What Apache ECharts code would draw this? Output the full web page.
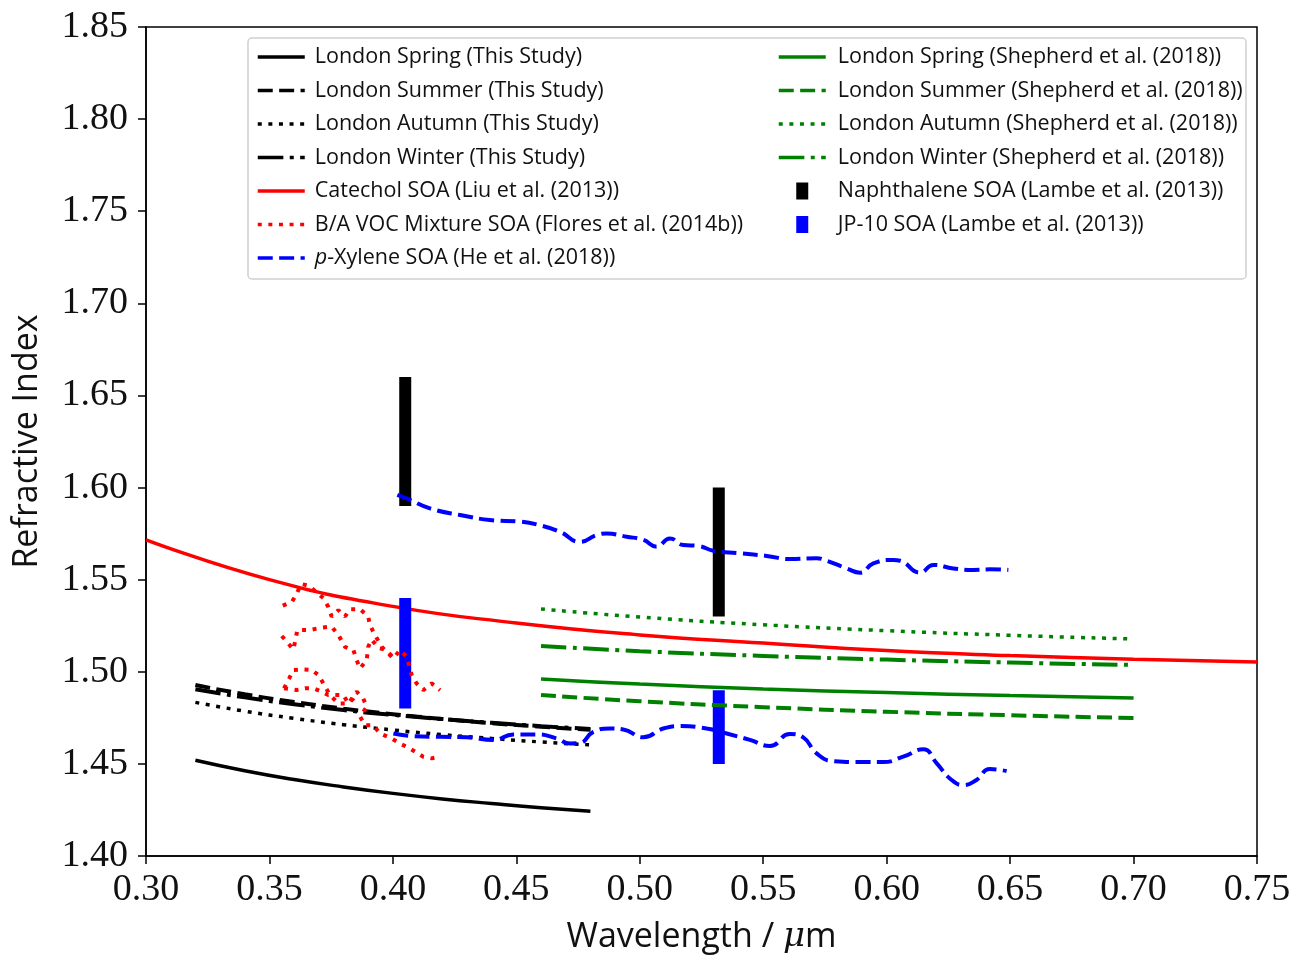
<!DOCTYPE html>
<html>
<head>
<meta charset="utf-8">
<script src="https://cdn.jsdelivr.net/npm/echarts@6/dist/echarts.min.js"></script>
<style>
html,body{margin:0;padding:0;background:#fff;}
#chart{width:1293px;height:955px;}
</style>
</head>
<body>
<div id="chart"></div>
<script>
// ---------- DATA ----------
const xTicks = [0.30,0.35,0.40,0.45,0.50,0.55,0.60,0.65,0.70,0.75];
const yTicks = [1.40,1.45,1.50,1.55,1.60,1.65,1.70,1.75,1.80,1.85];

// This study (black), wavelength in µm
const thisWl = [0.32,0.34,0.36,0.38,0.40,0.42,0.44,0.46,0.48];
const springThis = [1.4520,1.4463,1.4415,1.4375,1.4340,1.4310,1.4285,1.4262,1.4243];
const summerThis = [1.4928,1.4878,1.4836,1.4800,1.4770,1.4744,1.4721,1.4702,1.4685];
const autumnThis = [1.4834,1.4786,1.4747,1.4713,1.4684,1.4659,1.4638,1.4619,1.4603];
const winterThis = [1.4905,1.4861,1.4824,1.4792,1.4766,1.4743,1.4723,1.4705,1.4690];

// Shepherd et al. (2018) (green)
const shepWl = [0.46,0.50,0.55,0.60,0.65,0.70];
const springShep = [1.4961,1.4933,1.4907,1.4887,1.4871,1.4858];
const summerShep = [1.4874,1.4840,1.4808,1.4783,1.4764,1.4749];
const autumnShep = [1.5341,1.5297,1.5255,1.5223,1.5198,1.5178];
const winterShep = [1.5140,1.5112,1.5086,1.5066,1.5050,1.5037];

// Catechol SOA (Liu et al. 2013)
const catWl = [0.30,0.35,0.40,0.45,0.50,0.55,0.60,0.65,0.70,0.75];
const catN  = [1.5716,1.5500,1.5355,1.5265,1.5200,1.5156,1.5115,1.5088,1.5068,1.5053];

// B/A VOC mixture SOA (Flores et al. 2014b) - several traces [wl, n]
const floresA = [[0.3554,1.5359],[0.3591,1.5380],[0.3610,1.5422],[0.3628,1.5477],[0.3661,1.5466],[0.3718,1.5400],[0.3738,1.5353],[0.3752,1.5300],[0.3779,1.5335],[0.3806,1.5300],[0.3826,1.5340],[0.3867,1.5340],[0.3900,1.5300],[0.3907,1.5254],[0.3927,1.5200],[0.3955,1.5135],[0.4002,1.5072],[0.4029,1.5118],[0.4056,1.5081],[0.4076,1.4983],[0.4096,1.4937],[0.4123,1.4900],[0.4157,1.4937],[0.4191,1.4900]];
const floresB = [[0.3550,1.5194],[0.3576,1.5154],[0.3597,1.5121],[0.3606,1.5178],[0.3613,1.5227],[0.3664,1.5227],[0.3712,1.5240],[0.3752,1.5245],[0.3779,1.5200],[0.3806,1.5135],[0.3840,1.5118],[0.3853,1.5064],[0.3867,1.5018],[0.3894,1.5064],[0.3900,1.5135],[0.3914,1.5175],[0.3941,1.5130],[0.3968,1.5120],[0.4000,1.5080]];
const floresC = [[0.3559,1.4910],[0.3580,1.4964],[0.3597,1.5010],[0.3637,1.5013],[0.3671,1.5010],[0.3698,1.4983],[0.3718,1.4937],[0.3745,1.4874],[0.3779,1.4828],[0.3820,1.4828],[0.3853,1.4892],[0.3880,1.4855],[0.3894,1.4810],[0.3867,1.4756],[0.3887,1.4710],[0.3920,1.4710],[0.3948,1.4665],[0.3995,1.4638],[0.4029,1.4610],[0.4056,1.4593],[0.4090,1.4566],[0.4123,1.4539],[0.4157,1.4530],[0.4191,1.4539]];
const floresD = [[0.3559,1.4910],[0.3610,1.4901],[0.3644,1.4910],[0.3678,1.4910],[0.3712,1.4892],[0.3738,1.4874],[0.3779,1.4874],[0.3799,1.4874],[0.3820,1.4828],[0.3840,1.4855],[0.3857,1.4892]];

// p-Xylene SOA (He et al. 2018) - two traces [wl, n]
const xyleneUpper = [[0.4018,1.5960],[0.4069,1.5933],[0.4150,1.5887],[0.4272,1.5851],[0.4393,1.5824],[0.4515,1.5815],[0.4582,1.5800],[0.4677,1.5760],[0.4758,1.5705],[0.4825,1.5742],[0.4866,1.5750],[0.4947,1.5733],[0.5014,1.5716],[0.5068,1.5679],[0.5122,1.5724],[0.5176,1.5688],[0.5237,1.5683],[0.5298,1.5657],[0.5406,1.5643],[0.5514,1.5629],[0.5608,1.5612],[0.5716,1.5616],[0.5757,1.5603],[0.5838,1.5561],[0.5892,1.5538],[0.5946,1.5588],[0.6027,1.5607],[0.6054,1.5603],[0.6135,1.5538],[0.6189,1.5580],[0.6270,1.5561],[0.6351,1.5553],[0.6418,1.5556],[0.6493,1.5553]];
const xyleneLower = [[0.4002,1.4665],[0.4083,1.4651],[0.4191,1.4647],[0.4299,1.4644],[0.4407,1.4630],[0.4488,1.4660],[0.4582,1.4660],[0.4663,1.4638],[0.4717,1.4611],[0.4758,1.4614],[0.4812,1.4674],[0.4879,1.4692],[0.4933,1.4687],[0.5014,1.4644],[0.5095,1.4692],[0.5163,1.4705],[0.5271,1.4692],[0.5352,1.4665],[0.5446,1.4630],[0.5527,1.4597],[0.5608,1.4662],[0.5662,1.4644],[0.5716,1.4557],[0.5783,1.4515],[0.5892,1.4510],[0.5986,1.4510],[0.6067,1.4539],[0.6148,1.4579],[0.6203,1.4503],[0.6256,1.4421],[0.6310,1.4385],[0.6364,1.4413],[0.6418,1.4472],[0.6486,1.4461]];

// Lambe et al. (2013) ranges
const lambeWl = [0.405,0.532];
const naphLow = [1.59,1.53];
const naphHigh = [1.66,1.60];
const jpLow = [1.48,1.45];
const jpHigh = [1.54,1.49];

// ---------- NAMES ----------
const N = {
  sT:'London Spring (This Study)', suT:'London Summer (This Study)', aT:'London Autumn (This Study)', wT:'London Winter (This Study)',
  cat:'Catechol SOA (Liu et al. (2013))', fl:'B/A VOC Mixture SOA (Flores et al. (2014b))', xy:'p-Xylene SOA (He et al. (2018))',
  sS:'London Spring (Shepherd et al. (2018))', suS:'London Summer (Shepherd et al. (2018))', aS:'London Autumn (Shepherd et al. (2018))', wS:'London Winter (Shepherd et al. (2018))',
  na:'Naphthalene SOA (Lambe et al. (2013))', jp:'JP-10 SOA (Lambe et al. (2013))'
};

const DASH = [15,6.4], DOT = [4,6.6], DASHDOT = [25.6,6.4,4,6.4];

function pairs(xs, ys){ return xs.map((v,i)=>[v, ys[i]]); }
function lineS(name, data, color, type, width, z, smooth){
  return {type:'line', name:name, data:data, symbol:'none', showSymbol:false, smooth:!!smooth,
    lineStyle:{color:color, width:width, type:type, cap:'butt'}, itemStyle:{color:color}, z:z, animation:false, silent:true};
}
function barS(name, i, lows, highs, color){
  return lineS(name, [[lambeWl[i], lows[i]],[lambeWl[i], highs[i]]], color, 'solid', 12, 1, false);
}

const series = [
  barS(N.na,0,naphLow,naphHigh,'#000'), barS(N.na,1,naphLow,naphHigh,'#000'),
  barS(N.jp,0,jpLow,jpHigh,'#0000ff'), barS(N.jp,1,jpLow,jpHigh,'#0000ff'),
  lineS(N.sT, pairs(thisWl,springThis), '#000', 'solid', 3.5, 2, true),
  lineS(N.suT, pairs(thisWl,summerThis), '#000', DASH, 4, 2, true),
  lineS(N.aT, pairs(thisWl,autumnThis), '#000', DOT, 3.5, 2, true),
  lineS(N.wT, pairs(thisWl,winterThis), '#000', DASHDOT, 4, 2, true),
  lineS(N.cat, pairs(catWl,catN), '#ff0000', 'solid', 3.5, 0, true),
  lineS(N.fl, floresA, '#ff0000', DOT, 4, 3, false),
  lineS(N.fl, floresB, '#ff0000', DOT, 4, 3, false),
  lineS(N.fl, floresC, '#ff0000', DOT, 4, 3, false),
  lineS(N.fl, floresD, '#ff0000', DOT, 4, 3, false),
  lineS(N.xy, xyleneUpper, '#0000ff', DASH, 4, 3, true),
  lineS(N.xy, xyleneLower, '#0000ff', DASH, 4, 3, true),
  lineS(N.sS, pairs(shepWl,springShep), '#008000', 'solid', 3.5, 2, true),
  lineS(N.suS, pairs(shepWl,summerShep), '#008000', DASH, 4, 2, true),
  lineS(N.aS, pairs(shepWl,autumnShep), '#008000', DOT, 3.5, 2, true),
  lineS(N.wS, pairs(shepWl,winterShep), '#008000', DASHDOT, 4, 2, true)
];

const legFont = 'Open Sans';
const FS = 21.5;
const legText = {fontFamily:legFont, fontSize:FS, color:'#111', lineHeight:20,
  rich:{i:{fontFamily:legFont, fontSize:FS, fontStyle:'italic', color:'#111', lineHeight:20},
        n:{fontFamily:legFont, fontSize:FS, color:'#111', lineHeight:20}}};
const legendBase = {orient:'vertical', itemWidth:47, itemHeight:17, itemGap:11.5, padding:0,
  selectedMode:false, inactiveColor:'#111', lineStyle:{width:3.5}};
const barIcon = 'path://M0 0H12V17H0Z';
function lineItem(name){ return {name:name, itemStyle:{opacity:0}}; }

const chart = echarts.init(document.getElementById('chart'), null, {renderer:'canvas'});
chart.setOption({
  animation:false,
  backgroundColor:'#fff',
  grid:{left:146, right:36, top:27, bottom:99, show:true, borderColor:'#000', borderWidth:1.5,
    backgroundColor:'transparent', outerBoundsMode:'none', containLabel:false},
  xAxis:{type:'value', min:xTicks[0], max:xTicks[xTicks.length-1], interval:0.05,
    name:'Wavelength / {mu|μ}m', nameLocation:'middle', nameGap:64,
    nameTextStyle:{fontFamily:legFont, fontSize:34, color:'#111',
      rich:{mu:{fontFamily:'DejaVu Serif', fontStyle:'italic', fontSize:34, color:'#111'}}},
    axisLine:{lineStyle:{color:'#000', width:1.5}},
    axisTick:{inside:false, length:8, lineStyle:{color:'#000', width:1.5}},
    axisLabel:{fontFamily:'Liberation Serif', fontSize:38, color:'#111', margin:15,
      formatter:v=>Number(v).toFixed(2)},
    splitLine:{show:false}},
  yAxis:{type:'value', min:yTicks[0], max:yTicks[yTicks.length-1], interval:0.05,
    name:'Refractive Index', nameLocation:'middle', nameGap:102, nameRotate:90,
    nameTextStyle:{fontFamily:legFont, fontSize:34, color:'#111'},
    axisLine:{lineStyle:{color:'#000', width:1.5}},
    axisTick:{inside:false, length:8, lineStyle:{color:'#000', width:1.5}},
    axisLabel:{fontFamily:'Liberation Serif', fontSize:38, color:'#111', margin:18,
      formatter:v=>Number(v).toFixed(2)},
    splitLine:{show:false}},
  graphic:[{type:'rect', shape:{x:248, y:38, width:998, height:241, r:4}, z:5,
    style:{fill:'rgba(255,255,255,0.85)', stroke:'#d0d0d0', lineWidth:1.5}}],
  legend:[
    Object.assign({}, legendBase, {left:256, top:46, z:10,
      textStyle:Object.assign({}, legText, {padding:[0,0,0,5]}),
      formatter:function(name){ if(name===N.xy) return '{i|p}{n|-Xylene SOA (He et al. (2018))}'; return name; },
      data:[N.sT,N.suT,N.aT,N.wT,N.cat,N.fl,N.xy].map(lineItem)}),
    Object.assign({}, legendBase, {left:777, top:46, z:10,
      textStyle:Object.assign({}, legText, {padding:[0,0,0,7]}),
      data:[N.sS,N.suS,N.aS,N.wS].map(lineItem).concat([{name:N.na, icon:barIcon},{name:N.jp, icon:barIcon}])})
  ],
  series:series
});
</script>
</body>
</html>
